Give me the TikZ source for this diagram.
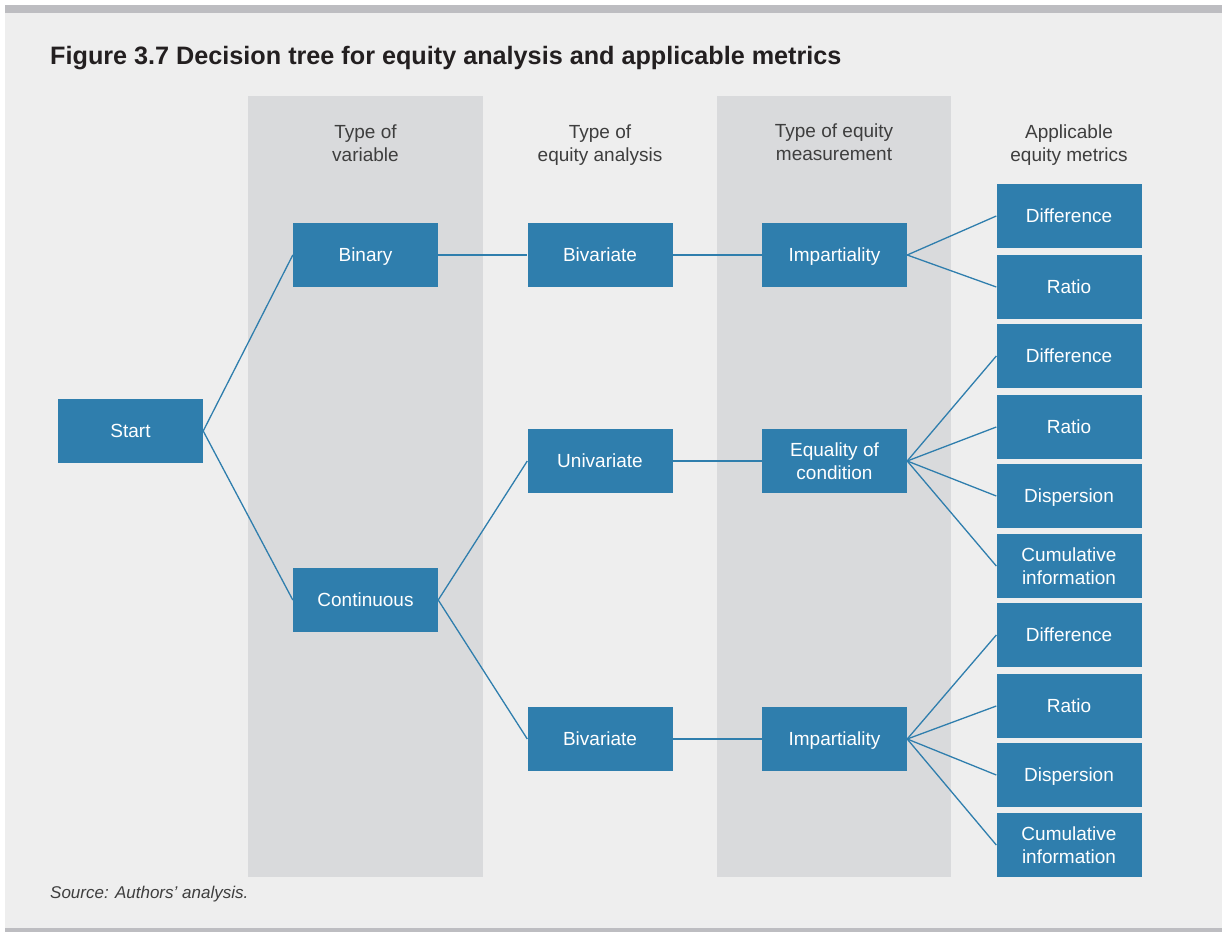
\documentclass[tikz,border=0pt]{standalone}
\usepackage{fontspec}
\setmainfont{Liberation Sans}
\definecolor{boxblue}{HTML}{2F7EAD}
\definecolor{bandgray}{HTML}{D9DADC}
\definecolor{bggray}{HTML}{EEEEEE}
\definecolor{bargray}{HTML}{BDBDC1}
\definecolor{headgray}{HTML}{3E3E3E}
\definecolor{titleblack}{HTML}{231F20}

\begin{document}
\begin{tikzpicture}[x=1pt,y=-1pt,
  twoline/.style={fill=boxblue,text=white,minimum width=145pt,minimum height=64pt,
    inner sep=0pt,align=center,font=\fontsize{19}{22.5}\selectfont},
  box/.style={twoline,text height=13.6pt,text depth=0pt},
  head/.style={anchor=north,inner sep=0pt,align=center,text=headgray,
    font=\fontsize{19}{23}\selectfont},
  link/.style={draw=boxblue,line width=1.3pt}]
\useasboundingbox (0,0) rectangle (1222,932);
\fill[bggray] (5,13) rectangle (1222,928);
\fill[bargray] (5,5) rectangle (1222,13);
\fill[bargray] (5,928) rectangle (1222,932);
\fill[bandgray] (248,96) rectangle (483,877);
\fill[bandgray] (717,96) rectangle (951,877);

\node[anchor=base west,inner sep=0pt,text=titleblack,
  font=\bfseries\fontsize{25.2}{30}\selectfont] (title) at (50,64)
  {Figure 3.7 Decision tree for equity analysis and applicable metrics};
\node[anchor=base west,inner sep=0pt,text=headgray,
  font=\itshape\fontsize{17}{20}\selectfont] (source) at (50,898)
  {Source: Authors’ analysis.};

\node[head] (h1) at (365.5,125) {Type of\\variable};
\node[head] (h2) at (600,125) {Type of\\equity analysis};
\node[head] (h3) at (834,124) {Type of equity\\measurement};
\node[head] (h4) at (1069,125) {Applicable\\equity metrics};

\node[box] (start) at (130.5,431) {Start};
\node[box] (binary) at (365.5,255) {Binary};
\node[box] (cont) at (365.5,600) {Continuous};
\node[box] (biv1) at (600,255) {Bivariate};
\node[box] (univ) at (600,461) {Univariate};
\node[box] (biv2) at (600,739) {Bivariate};
\node[box] (imp1) at (834.5,255) {Impartiality};
\node[twoline] (equal) at (834.5,461) {Equality of\\condition};
\node[box] (imp2) at (834.5,739) {Impartiality};

\node[box] (diff1) at (1069,216) {Difference};
\node[box] (ratio1) at (1069,287) {Ratio};
\node[box] (diff2) at (1069,356) {Difference};
\node[box] (ratio2) at (1069,427) {Ratio};
\node[box] (disp2) at (1069,496) {Dispersion};
\node[twoline] (cum2) at (1069,566) {Cumulative\\information};
\node[box] (diff3) at (1069,635) {Difference};
\node[box] (ratio3) at (1069,706) {Ratio};
\node[box] (disp3) at (1069,775) {Dispersion};
\node[twoline] (cum3) at (1069,845) {Cumulative\\information};

\draw[link] (start.east) -- (binary.west);
\draw[link] (start.east) -- (cont.west);
\draw[link] (binary.east) -- (biv1.west);
\draw[link] (cont.east) -- (univ.west);
\draw[link] (cont.east) -- (biv2.west);
\draw[link] (biv1.east) -- (imp1.west);
\draw[link] (univ.east) -- (equal.west);
\draw[link] (biv2.east) -- (imp2.west);
\foreach \m in {diff1,ratio1}
  \draw[link] (imp1.east) -- (\m.west);
\foreach \m in {diff2,ratio2,disp2,cum2}
  \draw[link] (equal.east) -- (\m.west);
\foreach \m in {diff3,ratio3,disp3,cum3}
  \draw[link] (imp2.east) -- (\m.west);
\end{tikzpicture}
\end{document}
